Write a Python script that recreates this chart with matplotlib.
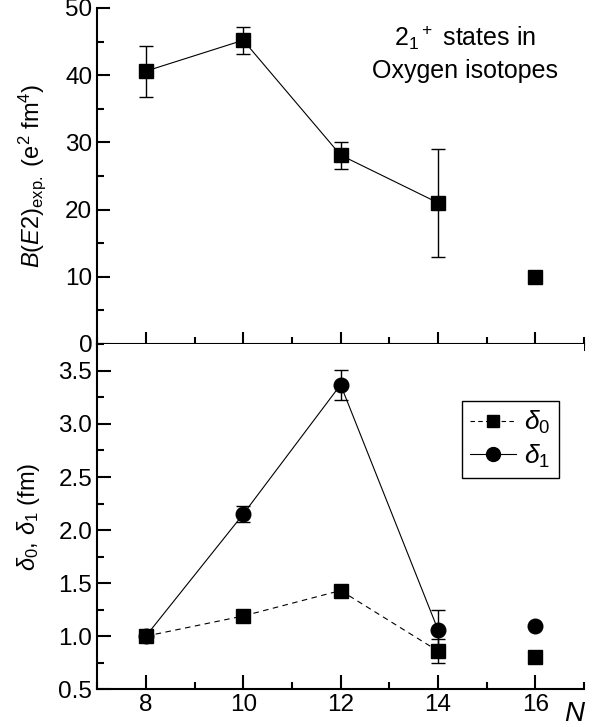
import matplotlib
matplotlib.use("Agg")
import matplotlib.pyplot as plt
from matplotlib.ticker import MultipleLocator, FormatStrFormatter
from matplotlib.lines import Line2D

plt.rcParams['font.family'] = ['Liberation Sans', 'DejaVu Sans']
plt.rcParams['mathtext.fontset'] = 'custom'
plt.rcParams['mathtext.rm'] = 'Liberation Sans'
plt.rcParams['mathtext.it'] = 'Liberation Sans:italic'
plt.rcParams['mathtext.bf'] = 'Liberation Sans:bold'

# neutron number
N_conn = [8, 10, 12, 14]
N_extra = [16]

# B(E2) experimental values (e^2 fm^4)
be2 = [40.6, 45.2, 28.1, 21.0]
be2_err = [3.8, 2.0, 2.0, 8.0]
be2_extra = [10.0]

# deformation lengths (fm)
delta0 = [1.0, 1.19, 1.43, 0.86]
delta0_err = [0.0, 0.0, 0.05, 0.11]
delta0_extra = [0.80]
delta1 = [1.0, 2.15, 3.37, 1.06]
delta1_err = [0.0, 0.075, 0.14, 0.19]
delta1_extra = [1.10]

fig = plt.figure(figsize=(5.96, 7.27), dpi=100)
ax1 = fig.add_axes([0.163, 0.527, 0.817, 0.462])
ax2 = fig.add_axes([0.163, 0.052, 0.817, 0.475])

spine_w = 1.5
tick_fs = 17.5

# --- top panel: B(E2)
ax1.errorbar(N_conn, be2, yerr=be2_err, fmt='-s', color='black', ms=9.5,
             lw=0.8, elinewidth=1.0, capsize=5, capthick=1.0)
ax1.plot(N_extra, be2_extra, 's', color='black', ms=9.5)
ax1.set_xlim(7, 17)
ax1.set_ylim(0, 50)
ax1.yaxis.set_major_locator(MultipleLocator(10))
ax1.yaxis.set_minor_locator(MultipleLocator(5))
ax1.xaxis.set_major_locator(MultipleLocator(2))
ax1.xaxis.set_minor_locator(MultipleLocator(1))
ax1.tick_params(axis='y', which='major', direction='in', length=9, width=spine_w, labelsize=tick_fs)
ax1.tick_params(axis='y', which='minor', direction='in', length=5, width=spine_w)
ax1.tick_params(axis='x', which='major', direction='inout', length=18, width=spine_w, labelbottom=False)
ax1.tick_params(axis='x', which='minor', direction='inout', length=10, width=spine_w)
ax1.spines['top'].set_visible(False)
ax1.spines['right'].set_visible(False)
for s in ['left', 'bottom']:
    ax1.spines[s].set_linewidth(spine_w)
ax1.set_ylabel(r'$\mathit{B(E2)}_{\rm exp.}$ (e$^2$ fm$^4$)', fontsize=17, labelpad=12)
ax1.text(0.755, 0.955, '2$_1$$^+$ states in\nOxygen isotopes', transform=ax1.transAxes,
         ha='center', va='top', fontsize=18, linespacing=1.4)

# --- bottom panel: delta0, delta1
ax2.errorbar(N_conn, delta0, yerr=delta0_err, fmt='--s', color='black', ms=9.5,
             lw=0.8, elinewidth=1.0, capsize=5, capthick=1.0, dashes=(5, 4))
ax2.errorbar(N_conn, delta1, yerr=delta1_err, fmt='-o', color='black', ms=10.5,
             lw=0.8, elinewidth=1.0, capsize=5, capthick=1.0)
ax2.plot(N_extra, delta0_extra, 's', color='black', ms=9.5)
ax2.plot(N_extra, delta1_extra, 'o', color='black', ms=10.5)
ax2.set_xlim(7, 17)
ax2.set_ylim(0.5, 3.755)
ax2.yaxis.set_major_locator(MultipleLocator(0.5))
ax2.yaxis.set_minor_locator(MultipleLocator(0.25))
ax2.xaxis.set_major_locator(MultipleLocator(2))
ax2.xaxis.set_minor_locator(MultipleLocator(1))
ax2.yaxis.set_major_formatter(FormatStrFormatter('%.1f'))
ax2.tick_params(axis='both', which='major', direction='in', length=10, width=spine_w, labelsize=tick_fs)
ax2.tick_params(axis='both', which='minor', direction='in', length=5, width=spine_w)
ax2.spines['top'].set_visible(False)
ax2.spines['right'].set_visible(False)
for s in ['left', 'bottom']:
    ax2.spines[s].set_linewidth(spine_w)
ax2.set_ylabel(r'$\delta_0$, $\delta_1$ (fm)', fontsize=17, labelpad=12)
ax2.text(1.0, -0.035, 'N', transform=ax2.transAxes, fontsize=20, style='italic',
         ha='right', va='top')

handles = [
    Line2D([], [], color='black', ls=(0, (4, 3)), lw=0.8, marker='s', ms=9),
    Line2D([], [], color='black', ls='-', lw=0.8, marker='o', ms=10),
]
leg = ax2.legend(handles, [r'$\delta_0$', r'$\delta_1$'], loc='upper left',
                 bbox_to_anchor=(0.75, 0.835), fontsize=19, borderaxespad=0,
                 fancybox=False, edgecolor='black', framealpha=1,
                 handlelength=1.75, borderpad=0.3, labelspacing=0.25, handletextpad=0.3)
leg.get_frame().set_linewidth(1.0)

fig.savefig('out.png', dpi=100)
